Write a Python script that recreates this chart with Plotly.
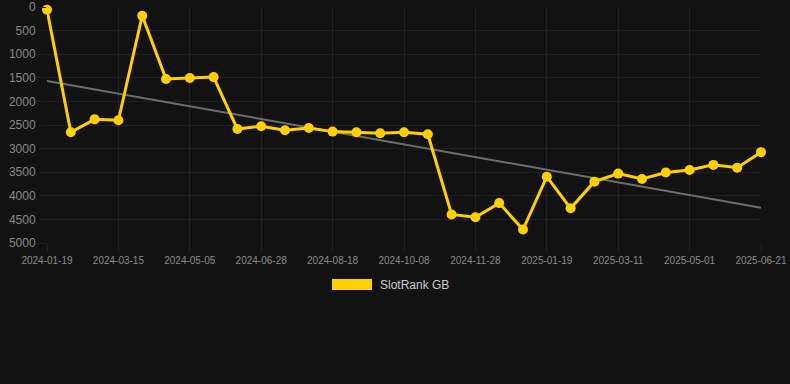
import plotly.graph_objects as go

dates = [
    "2024-01-19", "2024-02-06", "2024-02-24", "2024-03-15", "2024-04-01", "2024-04-18",
    "2024-05-05", "2024-05-23", "2024-06-10", "2024-06-28", "2024-07-15", "2024-08-01",
    "2024-08-18", "2024-09-04", "2024-09-21", "2024-10-08", "2024-10-25", "2024-11-11",
    "2024-11-28", "2024-12-15", "2025-01-01", "2025-01-19", "2025-02-05", "2025-02-22",
    "2025-03-11", "2025-03-28", "2025-04-14", "2025-05-01", "2025-05-18", "2025-06-04",
    "2025-06-21",
]
ranks = [
    60, 2655, 2380, 2400, 185, 1525, 1505, 1485, 2585, 2525,
    2610, 2565, 2640, 2655, 2675, 2655, 2695, 4395, 4455, 4155,
    4715, 3595, 4265, 3700, 3530, 3645, 3505, 3455, 3345, 3405,
    3075,
]
trend_x = ["2024-01-19", "2025-06-21"]
trend_y = [1565, 4255]
tick_labels = dates[::3]
y_ticks = [0, 500, 1000, 1500, 2000, 2500, 3000, 3500, 4000, 4500, 5000]
series_name = "SlotRank GB"

BG = "#121212"
GRID = "#212121"
GOLD = "#FFD000"
FONT = "Arial, Liberation Sans, sans-serif"

fig = go.Figure()
fig.add_trace(go.Scatter(
    x=trend_x, y=trend_y, mode="lines",
    line=dict(color="#6e6e6e", width=2), hoverinfo="skip", showlegend=False,
))
fig.add_trace(go.Scatter(
    x=dates, y=ranks, mode="lines+markers", name=series_name,
    line=dict(color=GOLD, width=3),
    marker=dict(color=GOLD, size=10),
    cliponaxis=False, showlegend=False,
))

fig.update_layout(
    width=790, height=384,
    paper_bgcolor=BG, plot_bgcolor=BG,
    margin=dict(l=47, r=29, t=7, b=141, autoexpand=False),
    font=dict(family=FONT, color="#8a8a8a"),
    xaxis=dict(
        type="category", categoryorder="array", categoryarray=dates,
        range=[0, len(dates) - 1], automargin=False,
        tickmode="array", tickvals=tick_labels, ticktext=tick_labels,
        tickfont=dict(size=10, color="#8a8a8a"),
        showgrid=True, gridcolor=GRID, gridwidth=1,
        ticks="outside", ticklen=8, tickcolor=GRID,
        showline=False, zeroline=False,
    ),
    yaxis=dict(
        range=[5000, 0], tickmode="array", tickvals=y_ticks, automargin=False,
        tickfont=dict(size=12, color="#8a8a8a"),
        showgrid=True, gridcolor=GRID, gridwidth=1,
        ticks="outside", ticklen=8, tickcolor=GRID,
        showline=False, zeroline=False,
    ),
    shapes=[dict(
        type="rect", xref="paper", yref="paper",
        x0=(332 - 47) / 714, x1=(372 - 47) / 714,
        y0=(243 - 290) / 236, y1=(243 - 279) / 236,
        fillcolor=GOLD, line=dict(width=0),
    )],
    annotations=[dict(
        text=series_name, xref="paper", yref="paper",
        x=(378 - 47) / 714, y=(243 - 284.5) / 236,
        xanchor="left", yanchor="middle", showarrow=False,
        font=dict(size=12, color="#cccccc", family=FONT),
    )],
)

fig.write_html(
    "out.html",
    config={"displayModeBar": False},
    post_script="document.body.style.margin='0';document.body.style.background='#121212';",
)
